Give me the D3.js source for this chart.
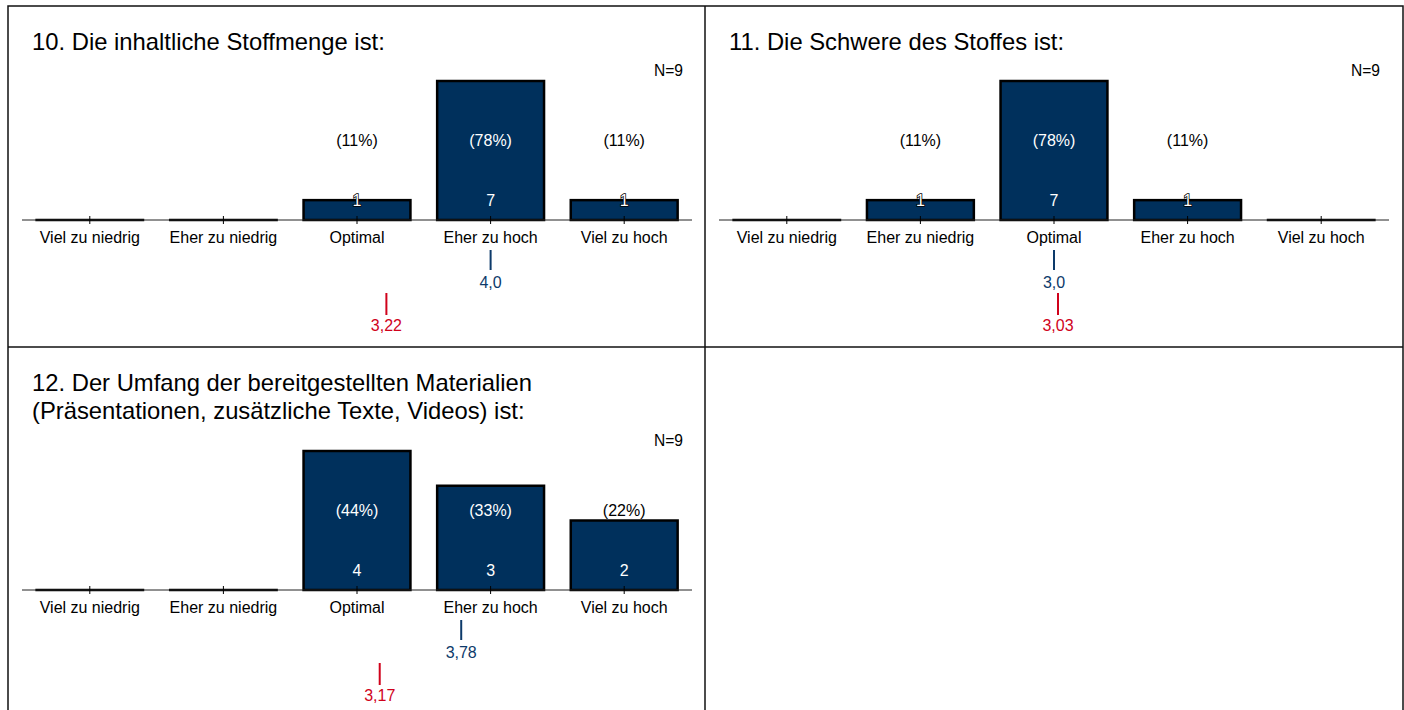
<!DOCTYPE html>
<html>
<head>
<meta charset="utf-8">
<script src="https://d3js.org/d3.v7.min.js"></script>
<style>
  body { margin: 0; background: #fff; }
  svg { font-family: "Liberation Sans", Arial, sans-serif; }
  .bar { fill: #00305c; stroke: #000; stroke-width: 2.5; }
</style>
</head>
<body>
<svg id="chart" width="1404" height="710"></svg>
<script>
// data
var categories = ["Viel zu niedrig", "Eher zu niedrig", "Optimal", "Eher zu hoch", "Viel zu hoch"];
var titles = [
  ["10. Die inhaltliche Stoffmenge ist:"],
  ["11. Die Schwere des Stoffes ist:"],
  ["12. Der Umfang der bereitgestellten Materialien", "(Präsentationen, zusätzliche Texte, Videos) ist:"]
];
var counts10 = [0, 0, 1, 7, 1];
var counts11 = [0, 1, 7, 1, 0];
var counts12 = [0, 0, 4, 3, 2];
var nValues = [9, 9, 9];
var blueValues = [4.0, 3.0, 3.78];
var blueLabels = ["4,0", "3,0", "3,78"];
var redValues = [3.22, 3.03, 3.17];
var redLabels = ["3,22", "3,03", "3,17"];

var allCounts = [counts10, counts11, counts12];
var panels = [
  { x: 8, y: 6, axisY: 214 },
  { x: 705, y: 6, axisY: 214 },
  { x: 8, y: 347, axisY: 243 }
];

var svg = d3.select("#chart");
var blue = "#0d3a6a", red = "#d0021b";

// frame
var frame = svg.append("g").attr("fill", "none").attr("stroke", "#111").attr("stroke-width", 1.5);
frame.append("rect").attr("x", 8).attr("y", 6).attr("width", 1395).attr("height", 720);
frame.append("line").attr("x1", 705).attr("x2", 705).attr("y1", 6).attr("y2", 710);
frame.append("line").attr("x1", 8).attr("x2", 1403).attr("y1", 347).attr("y2", 347);

panels.forEach(function (p, i) {
  var counts = allCounts[i];
  var g = svg.append("g").attr("transform", "translate(" + p.x + "," + p.y + ")");
  var x = d3.scaleBand().domain(categories).range([15, 683]).paddingInner(0.2).paddingOuter(0.1);
  var y = d3.scaleLinear().domain([0, d3.max(counts)]).range([p.axisY, p.axisY - 139]);
  var m = d3.scaleLinear().domain([1, 5]).range([x(categories[0]) + x.bandwidth() / 2, x(categories[4]) + x.bandwidth() / 2]);

  // title
  g.append("text").attr("x", 24).attr("y", 43.5).attr("font-size", 23.8).attr("fill", "#000")
    .selectAll("tspan").data(titles[i]).enter().append("tspan")
    .attr("x", 24).attr("dy", function (d, k) { return k ? 28 : 0; }).text(function (d) { return d; });

  g.append("text").attr("x", 675).attr("y", p.axisY - 144).attr("text-anchor", "end")
    .attr("font-size", 15.6).text("N=" + nValues[i]);

  // axis
  var axis = g.append("g").attr("transform", "translate(0," + p.axisY + ")")
    .call(d3.axisBottom(x).tickSize(4).tickSizeOuter(0));
  axis.select(".domain").attr("stroke", "#222").attr("d", "M14,0H684");
  axis.selectAll(".tick line").attr("stroke", "#000").attr("y1", -4).attr("y2", 4);
  axis.selectAll(".tick text").attr("font-size", 16).attr("fill", "#000").attr("y", 11.5).attr("dy", "0.71em")
    .attr("font-family", "Liberation Sans, Arial, sans-serif");

  // bars (zero counts drawn as a flat bar)
  g.selectAll("rect.bar").data(counts).enter().append("rect").attr("class", "bar")
    .attr("x", function (d, k) { return x(categories[k]); })
    .attr("width", x.bandwidth())
    .attr("y", function (d) { return y(d); })
    .attr("height", function (d) { return p.axisY - y(d); })
    .attr("display", function (d) { return d > 0 ? null : "none"; });
  counts.forEach(function (c, k) {
    if (c === 0) {
      g.append("line").attr("x1", x(categories[k]) - 1).attr("x2", x(categories[k]) + x.bandwidth() + 1)
        .attr("y1", p.axisY).attr("y2", p.axisY).attr("stroke", "#000").attr("stroke-width", 2.5);
    }
  });
  axis.raise();
  axis.select(".domain").lower();

  // labels
  var pctY = p.axisY - 80;
  counts.forEach(function (c, k) {
    if (c <= 0) return;
    var cx = x(categories[k]) + x.bandwidth() / 2;
    var inside = y(c) < pctY - 12;
    g.append("text").attr("x", cx).attr("y", pctY).attr("dy", "0.35em")
      .attr("text-anchor", "middle").attr("font-size", 16)
      .attr("fill", inside ? "#fff" : "#000")
      .text("(" + Math.round(c / nValues[i] * 100) + "%)");
    var small = p.axisY - y(c) < 28;
    g.append("text").attr("x", cx).attr("y", p.axisY - 20).attr("dy", "0.35em")
      .attr("text-anchor", "middle").attr("font-size", 16)
      .attr("fill", "#fff")
      .attr("stroke", small ? "#000" : "none").attr("stroke-width", small ? 1.5 : 0)
      .attr("paint-order", "stroke")
      .text(c);
  });

  // markers
  var bx = m(blueValues[i]);
  g.append("line").attr("x1", bx).attr("x2", bx).attr("y1", p.axisY + 30).attr("y2", p.axisY + 50)
    .attr("stroke", blue).attr("stroke-width", 2);
  g.append("text").attr("x", bx).attr("y", p.axisY + 62).attr("dy", "0.35em").attr("text-anchor", "middle")
    .attr("font-size", 16).attr("fill", blue).text(blueLabels[i]);
  var rx = m(redValues[i]);
  g.append("line").attr("x1", rx).attr("x2", rx).attr("y1", p.axisY + 73).attr("y2", p.axisY + 95)
    .attr("stroke", red).attr("stroke-width", 2);
  g.append("text").attr("x", rx).attr("y", p.axisY + 105).attr("dy", "0.35em").attr("text-anchor", "middle")
    .attr("font-size", 16).attr("fill", red).text(redLabels[i]);
});
</script>
</body>
</html>
